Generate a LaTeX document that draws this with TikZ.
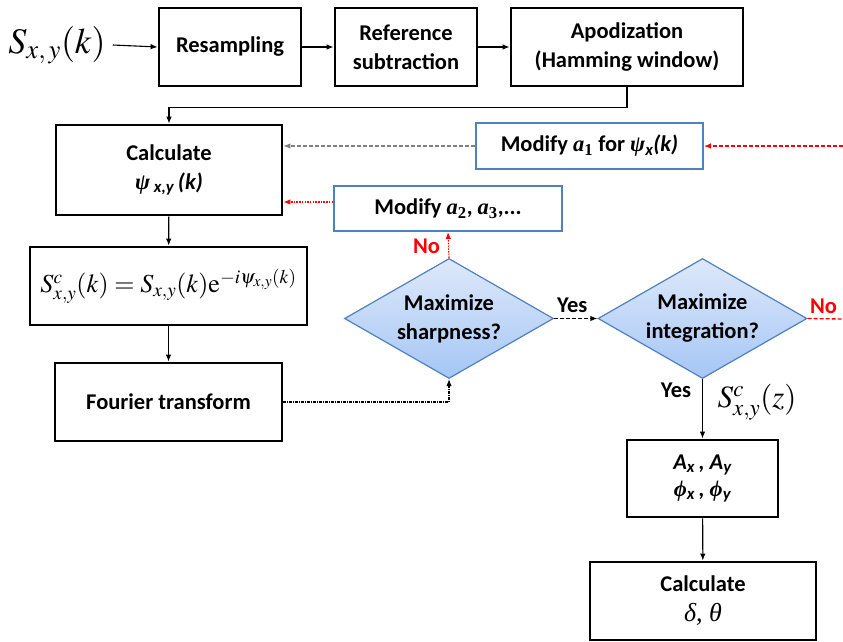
\documentclass[tikz,border=0pt]{standalone}
\usepackage{mathptmx}
\usepackage[no-math]{fontspec}
\setmainfont{Carlito}
\newfontfamily\tms{Liberation Serif}
\usetikzlibrary{arrows.meta,shapes.geometric}
\definecolor{bblue}{RGB}{79,129,189}
\definecolor{dtop}{RGB}{222,233,250}
\definecolor{dbot}{RGB}{165,198,245}
\definecolor{nored}{RGB}{255,0,0}
\newcommand\bxf{\fontsize{22.5}{29}\selectfont\bfseries}
\tikzset{
  blk/.style={draw=black, line width=2.8pt, inner sep=0pt, align=center, font=\bxf},
  blu/.style={draw=bblue, line width=2pt, inner sep=0pt, align=center, font=\bxf},
  dia/.style={diamond, draw=bblue, line width=1.2pt, top color=dtop, bottom color=dbot,
    inner sep=0pt, aspect=1.74, minimum width=209pt, minimum height=120pt, align=center, font=\bxf},
  arr/.style={-{Latex[length=7pt,width=5.5pt]}, line width=1.1pt},
  lbl/.style={font=\bxf, inner sep=0pt},
}
\begin{document}
\begin{tikzpicture}[x=1pt,y=-1pt]
\useasboundingbox (0,0) rectangle (843,642);
% input
\node[inner sep=0pt, font=\fontsize{36}{36}\selectfont] (sin) at (57,45) {$S_{x,\,y}(k)$};
% top row
\node[blk, minimum width=142pt, minimum height=78pt] (res) at (230,47) {Resampling};
\node[blk, minimum width=142pt, minimum height=78pt] (ref) at (406,47) {Reference\\subtraction};
\node[blk, minimum width=232pt, minimum height=78pt] (apo) at (627,47) {Apodization\\(Hamming window)};
% left column
\node[blk, minimum width=226pt, minimum height=90pt] (calc) at (169,170)
  {Calculate\\{\tms\bfseries\itshape ψ}\,\textsubscript{\itshape x,y}\,\textit{(k)}};
\node[blk, minimum width=277pt, minimum height=78pt, font=\fontsize{26}{26}\selectfont] (sc) at (168.5,286)
  {$S^{c}_{x,y}(k)=S_{x,y}(k)\mathrm{e}^{-i\psi_{x,y}(k)}$};
\node[blk, minimum width=227pt, minimum height=78pt] (ft) at (168.5,402) {Fourier transform};
% modify boxes
\node[blu, minimum width=227pt, minimum height=46pt] (mod1) at (589.5,146)
  {Modify {\tms\bfseries\itshape a}\textsubscript{\tms\bfseries 1} for {\tms\bfseries\itshape ψ}\textsubscript{\itshape x}\textit{(k)}};
\node[blu, minimum width=228pt, minimum height=45pt] (mod2) at (448,208.5)
  {Modify {\tms\bfseries\itshape a}\textsubscript{\tms\bfseries 2}, {\tms\bfseries\itshape a}\textsubscript{\tms\bfseries 3},...};
% decisions
\node[dia] (sharp) at (449,318.5) {Maximize\\sharpness?};
\node[dia] (integ) at (702.5,318.5) {Maximize\\integration?};
% right column
\node[blk, minimum width=151pt, minimum height=77pt, font=\fontsize{22.5}{27}\selectfont\bfseries] (amp) at (702.5,478.5)
  {\textit{A}\textsubscript{\itshape x}\,\textit{,} \textit{A}\textsubscript{\itshape y}\\
   {\tms\bfseries\itshape ϕ}\textsubscript{\itshape x}\,\textit{,} {\tms\bfseries\itshape ϕ}\textsubscript{\itshape y}};
\node[blk, minimum width=226pt, minimum height=78pt, font=\fontsize{22.5}{30}\selectfont\bfseries] (fin) at (703,601)
  {Calculate\\{\tms\itshape\mdseries\fontsize{26}{30}\selectfont δ, θ}};
% free ends
\coordinate (rin) at (843,146);
\coordinate (rout) at (843,319);
% connectors
\draw[arr] ([xshift=7pt]sin.east) -- (res.west);
\draw[arr] (res) -- (ref);
\draw[arr] (ref) -- (apo);
\draw[arr] (apo.south) -- ++(0,20) -| (calc.north);
\draw[arr] (calc) -- (sc);
\draw[arr] (sc) -- (ft);
\draw[arr, gray, dash pattern=on 4pt off 2pt] (mod1.west) -- (calc.east |- mod1.west);
\draw[arr, nored, dash pattern=on 4pt off 2pt] (rin) -- (mod1.east);
\draw[arr, nored, dash pattern=on 1.5pt off 1.2pt] ([yshift=6.5pt]mod2.west) -- (calc.east |- 0,202);
\draw[arr, nored, dash pattern=on 1.5pt off 1.2pt] (sharp.north) -- (mod2.south)
  node[pos=0.45, left=8pt, lbl, text=nored] {No};
\draw[arr, dash pattern=on 3pt off 1pt on 1pt off 1pt] (ft.east) -| (sharp.south);
\draw[arr, dash pattern=on 4pt off 2pt, line width=1.3pt] (sharp.east) -- (integ.west)
  node[pos=0.42, above=5pt, lbl] {Yes};
\draw[nored, dash pattern=on 4pt off 2pt, line width=1.3pt] (integ.east) -- (rout)
  node[pos=0.45, above=4pt, lbl, text=nored] {No};
\draw[arr] (integ.south) -- (amp.north);
\node[lbl] (yes2) at (676,390) {Yes};
\node[inner sep=0pt, font=\fontsize{31}{31}\selectfont] (scz) at (757,402) {$S^{c}_{x,y}(z)$};
\draw[arr] (amp) -- (fin);
\end{tikzpicture}
\end{document}
